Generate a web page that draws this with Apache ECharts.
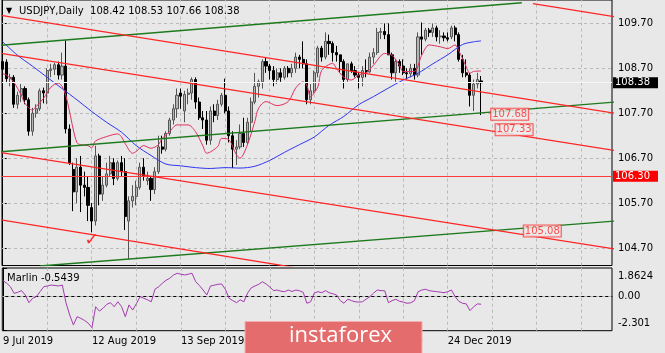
<!DOCTYPE html>
<html>
<head>
<meta charset="utf-8">
<title>USDJPY Daily</title>
<script src="https://cdn.jsdelivr.net/npm/echarts@6/dist/echarts.min.js"></script>
<style>
html, body { margin: 0; padding: 0; background: #e8e8e8; }
#chart { width: 665px; height: 353px; }
</style>
</head>
<body>
<div id="chart"></div>
<script>
// bar 0 = 9 Jul 2019 ... bar 129 = 8 Jan 2020
const opens = [108.85,108.84,108.47,108.50,107.90,108.10,108.25,108.00,107.30,107.70,
  107.80,108.20,108.15,108.65,108.68,108.78,108.55,108.75,107.35,106.45,
  105.95,106.50,106.10,106.05,105.60,105.30,106.75,105.90,106.10,106.35,
  106.60,106.25,106.60,106.40,105.30,105.75,105.85,106.05,106.50,106.20,
  106.25,106.00,106.40,106.95,106.90,107.25,107.55,107.80,108.15,107.75,
  108.12,108.15,108.45,107.95,107.60,107.55,107.10,107.75,107.65,107.90,
  108.10,107.75,107.20,106.90,106.95,107.25,107.05,107.50,107.95,108.30,
  108.40,108.85,108.75,108.65,108.45,108.60,108.50,108.70,108.60,108.70,
  108.95,108.90,108.80,108.00,108.20,108.60,109.15,108.95,109.30,109.25,
  109.05,109.00,108.85,108.45,108.80,108.65,108.55,108.50,108.65,108.62,
  108.95,109.05,109.50,109.52,109.45,109.00,108.60,108.85,108.75,108.60,
  108.58,108.70,108.55,109.40,109.35,109.55,109.50,109.60,109.40,109.42,
  109.38,109.40,109.60,109.45,108.90,108.60,108.55,108.10,108.35,108.42];
const closes = [108.68,108.47,108.50,107.90,108.10,108.25,108.00,107.30,107.70,107.80,
  108.20,108.15,108.65,108.68,108.78,108.55,108.75,107.35,106.60,105.95,
  106.50,106.10,106.05,105.65,105.30,106.75,105.90,106.10,106.35,106.60,
  106.25,106.60,106.40,105.40,105.75,105.85,106.05,106.50,106.30,106.25,
  106.00,106.40,106.95,106.90,107.25,107.55,107.80,108.10,108.08,108.12,
  108.15,108.45,107.95,107.60,107.55,107.10,107.75,107.65,107.90,108.10,
  107.75,107.20,106.90,106.95,107.25,107.05,107.50,107.95,108.30,108.40,
  108.85,108.75,108.65,108.45,108.60,108.50,108.70,108.60,108.70,108.95,
  108.90,108.80,108.00,108.20,108.60,109.15,108.95,109.30,109.25,109.05,
  109.00,108.85,108.45,108.80,108.65,108.55,108.50,108.65,108.62,108.95,
  109.05,109.50,109.52,109.45,109.00,108.60,108.85,108.75,108.60,108.58,
  108.70,108.55,109.40,109.35,109.55,109.50,109.60,109.40,109.42,109.38,
  109.35,109.60,109.45,108.90,108.60,108.55,108.10,108.35,108.45,108.38];
const highs = [108.99,108.90,108.58,108.55,108.18,108.35,108.30,108.05,107.82,107.90,
  108.25,108.27,108.70,108.80,108.82,108.85,109.05,109.32,107.45,106.60,
  106.70,106.75,106.40,106.30,105.70,106.98,106.80,106.30,106.60,106.75,
  106.70,106.65,106.75,106.70,105.85,106.10,106.20,106.60,106.70,106.40,
  106.30,106.50,107.20,107.20,107.30,107.60,107.90,108.25,108.25,108.20,
  108.25,108.50,108.50,108.05,107.75,107.75,107.85,107.90,108.00,108.15,
  108.47,107.85,107.30,107.10,107.45,107.60,107.60,108.05,108.60,108.45,
  108.90,108.95,108.80,108.75,108.70,108.70,108.75,108.75,108.80,109.05,
  109.00,109.30,108.90,108.35,108.65,109.20,109.20,109.50,109.45,109.30,
  109.20,109.00,108.90,108.80,108.85,108.75,108.60,108.75,108.90,109.05,
  109.15,109.60,109.60,109.70,109.70,109.05,108.90,108.90,108.90,108.70,
  108.80,108.80,109.50,109.72,109.60,109.60,109.70,109.65,109.55,109.50,
  109.50,109.65,109.65,109.50,109.00,108.90,108.60,108.45,108.60,108.53];
const lows = [108.60,108.40,108.30,107.82,107.80,107.95,107.90,107.20,107.20,107.60,
  107.75,107.92,107.90,108.50,108.55,108.45,108.45,107.25,106.55,105.52,
  105.70,105.50,105.85,105.30,105.05,105.20,105.65,105.75,106.05,106.30,
  106.10,106.20,106.30,105.10,104.45,105.60,105.65,106.00,106.20,106.10,
  105.75,105.90,106.35,106.80,106.85,107.20,107.45,107.60,107.80,107.50,
  107.90,108.00,107.80,107.55,107.35,107.00,107.00,107.50,107.55,107.85,
  107.70,107.05,106.48,106.55,106.90,106.95,107.00,107.30,107.90,108.05,
  108.25,108.60,108.45,108.30,108.35,108.40,108.45,108.50,108.50,108.60,
  108.70,108.70,107.90,107.90,108.15,108.50,108.85,108.90,109.00,108.85,
  108.85,108.60,108.25,108.40,108.60,108.50,108.25,108.30,108.50,108.60,
  108.80,109.00,109.35,109.35,109.00,108.45,108.40,108.60,108.55,108.45,
  108.50,108.45,108.50,109.00,109.30,109.40,109.40,109.30,109.25,109.30,
  109.30,109.35,109.30,108.85,108.50,108.50,107.85,107.75,108.25,107.66];

// fast (red) and slow (blue) moving averages: [bar, price]
const redMa = [[0,108.58],[1,108.55],[3,108.39],[5,108.10],[6,107.92],[8,107.77],[9,107.85],
  [11,108.03],[13,108.28],[15,108.37],[16,108.30],[17,108.10],[18,107.75],[19,107.35],[20,107.05],
  [21,107.00],[23,106.98],[24,106.93],[25,107.08],[28,107.18],[31,107.24],[32,107.18],[33,107.03],
  [35,106.81],[36,106.85],[38,106.98],[40,106.92],[42,107.00],[43,107.14],[45,107.29],[47,107.44],
  [50,107.44],[52,107.29],[54,106.97],[55,106.81],[58,106.96],[59,107.14],[61,107.11],[63,106.78],
  [64,106.70],[66,107.00],[68,107.52],[69,107.81],[71,107.96],[74,107.87],[77,107.96],[79,108.26],
  [81,108.40],[82,108.33],[83,108.07],[85,108.29],[86,108.65],[89,108.81],[90,108.70],[92,108.50],
  [94,108.44],[96,108.55],[98,108.60],[100,108.77],[103,109.03],[105,108.99],[107,108.77],[108,108.63],
  [111,108.63],[113,108.99],[115,109.22],[118,109.18],[120,109.14],[122,109.22],[123,109.09],
  [125,108.74],[126,108.59],[127,108.63],[129,108.64]];
const blueMa = [[0,109.29],[4,108.99],[8,108.75],[12,108.50],[16,108.25],[20,108.00],[24,107.74],
  [28,107.50],[32,107.28],[36,106.98],[40,106.76],[44,106.57],[48,106.53],[52,106.49],[56,106.47],
  [60,106.49],[64,106.48],[68,106.52],[72,106.65],[76,106.83],[80,107.00],[84,107.17],[88,107.43],
  [92,107.63],[96,107.89],[100,108.07],[104,108.26],[108,108.44],[112,108.59],[116,108.80],
  [120,109.00],[124,109.23],[127,109.29],[129,109.31]];

// Marlin oscillator, one value per bar
const marlin = [1.02,0.85,0.62,0.18,0.25,0.36,0.07,-0.44,-0.15,-0.04,
  0.29,0.62,0.67,0.73,0.70,0.67,0.73,-0.45,-1.26,-1.92,
  -1.37,-1.48,-1.62,-1.80,-2.10,-0.71,-1.00,-0.81,-0.55,-0.44,
  -0.71,-0.38,-0.71,-1.37,-0.59,-0.93,-0.50,-0.04,-0.15,-0.25,
  -0.38,0.45,0.62,0.85,1.05,1.18,1.40,1.51,1.45,1.40,
  1.45,1.51,0.95,0.70,0.40,0.07,0.67,0.72,0.78,0.80,
  0.45,-0.15,-0.30,-0.44,-0.25,-0.38,0.20,0.55,0.67,0.78,
  0.95,0.80,0.60,0.36,0.40,0.32,0.29,0.40,0.30,0.40,
  0.35,0.25,-0.48,-0.38,0.20,0.29,0.22,0.36,0.22,0.15,
  0.07,-0.30,-0.48,-0.21,-0.30,-0.38,-0.40,-0.38,-0.20,-0.04,
  0.20,0.40,0.36,0.35,-0.44,-0.30,-0.21,-0.35,-0.40,-0.48,
  -0.45,-0.31,0.29,0.40,0.45,0.36,0.32,0.29,0.26,0.22,
  0.29,0.40,-0.04,-0.35,-0.48,-0.52,-0.97,-0.71,-0.52,-0.5439];

// drawn trend lines: [bar1, price1, bar2, price2]
const redLines = [[143,110.14,165,109.85],[-1,109.885,165,107.70],[-1,109.04,165,106.87],
  [-1,106.83,165,104.68],[-1,105.335,80,104.25]];
const greenLines = [[-1,109.21,140,110.16],[-1,106.84,165,107.95],[10,104.30,165,105.30]];
const levelPrice = 106.30;
const lastPrice = closes[closes.length - 1];
const noteBars = [131.6, 132.8, 140.4];
const notePrices = [107.68, 107.33, 105.08];
const checkMark = [24, 104.86];

const priceTicks = [104.70, 105.70, 106.70, 107.70, 108.70, 109.70];
const priceMin = 104.311, priceMax = 110.221;
const marlinMin = -2.301, marlinMax = 1.8624;
const barMin = -0.19, barMax = 164.32;
const dateBars = [0, 24, 48, 72, 96, 120];
const dateLabels = ['9 Jul 2019', '12 Aug 2019', '13 Sep 2019', '17 Oct 2019', '20 Nov 2019', '24 Dec 2019'];
const gridBars = [12, 24, 36, 48, 60, 72, 84, 96, 108, 120, 132, 144, 156];

const FONT = "'DejaVu Sans', sans-serif";
const last = opens.length - 1;
const candles = opens.map((o, i) => [i, o, closes[i], lows[i], highs[i]]);
const gridStyle = { color: '#b9b9b9', type: [3, 3], width: 1 };

const lineSeries = (pts, color) => ({
  type: 'line', xAxisIndex: 0, yAxisIndex: 0, z: 4, silent: true,
  symbol: 'none', data: [[pts[0], pts[1]], [pts[2], pts[3]]],
  lineStyle: { color: color, width: 1.3 }
});

const chart = echarts.init(document.getElementById('chart'));
chart.setOption({
  animation: false,
  backgroundColor: '#e8e8e8',
  textStyle: { fontFamily: FONT },
  title: [
    { text: '▼', left: 6, top: 7, padding: 0, textStyle: { fontSize: 8, color: '#000', fontWeight: 'normal', fontFamily: FONT } },
    { text: 'USDJPY,Daily  ' + [opens[last], highs[last], lows[last], closes[last]].map(v => v.toFixed(2)).join(' '),
      left: 19, top: 6, padding: 0, textStyle: { fontSize: 10, color: '#000', fontWeight: 'normal', fontFamily: FONT } },
    { text: 'Marlin ' + marlin[last].toFixed(4), left: 7, top: 273, padding: 0,
      textStyle: { fontSize: 10, color: '#000', fontWeight: 'normal', fontFamily: FONT } }
  ],
  grid: [
    { left: 2, top: -2, width: 610, height: 267.5, show: true, borderColor: '#000', borderWidth: 1, backgroundColor: 'transparent' },
    { left: 2, top: 268, width: 610, height: 62.7, show: true, borderColor: '#000', borderWidth: 1, backgroundColor: 'transparent' }
  ],
  xAxis: [
    { type: 'value', gridIndex: 0, min: barMin, max: barMax, show: false },
    { type: 'value', gridIndex: 1, min: barMin, max: barMax,
      axisLine: { show: true, lineStyle: { color: '#000' } },
      axisTick: { show: true, length: 4, customValues: dateBars, lineStyle: { color: '#000' } },
      axisLabel: { customValues: dateBars, align: 'left', margin: 6, fontSize: 10, color: '#000', fontFamily: FONT,
        formatter: v => dateLabels[dateBars.indexOf(Math.round(v))] || '' },
      splitLine: { show: false } }
  ],
  yAxis: [
    { type: 'value', gridIndex: 0, position: 'right', min: priceMin, max: priceMax,
      axisLine: { show: true, lineStyle: { color: '#000' } },
      axisTick: { show: true, length: 4, customValues: priceTicks, lineStyle: { color: '#000' } },
      axisLabel: { customValues: priceTicks, margin: 6, fontSize: 10, color: '#000', fontFamily: FONT,
        formatter: v => v.toFixed(2) },
      splitLine: { show: false } },
    { type: 'value', gridIndex: 1, position: 'right', min: marlinMin, max: marlinMax,
      axisLine: { show: true, lineStyle: { color: '#000' } },
      axisTick: { show: true, length: 4, customValues: [marlinMax, 0, marlinMin], lineStyle: { color: '#000' } },
      axisLabel: { customValues: [marlinMax, 0, marlinMin], margin: 6, fontSize: 10, color: '#000', fontFamily: FONT,
        formatter: v => v === marlinMax ? '{top|' + v.toFixed(4) + '}' : v === marlinMin ? '{bot|' + v.toFixed(3) + '}' : v.toFixed(2),
        rich: { top: { padding: [16, 0, 0, 0] }, bot: { padding: [0, 0, 14, 0] } } },
      splitLine: { show: false } }
  ],
  graphic: [
    { type: 'rect', z: 100, shape: { x: 245, y: 321.5, width: 177, height: 34 },
      style: { fill: '#e46c6c', stroke: '#f2b0b0', lineWidth: 1 } },
    { type: 'text', z: 101, x: 289, y: 336,
      style: { text: 'instaforex', fill: '#ffffff', fontSize: 22, fontFamily: "'Open Sans', sans-serif", verticalAlign: 'middle' } }
  ],
  series: [
    { // chart grid
      type: 'line', xAxisIndex: 0, yAxisIndex: 0, silent: true, symbol: 'none',
      data: [[barMin, priceMin]], lineStyle: { opacity: 0 },
      markLine: { z: 1, silent: true, symbol: ['none', 'none'], label: { show: false }, lineStyle: gridStyle,
        data: priceTicks.map(v => ({ yAxis: v })).concat(gridBars.map(b => ({ xAxis: b }))) }
    },
    {
      type: 'candlestick', xAxisIndex: 0, yAxisIndex: 0, z: 2, silent: true,
      data: candles, encode: { x: 0, y: [1, 2, 3, 4] }, barWidth: 2.6,
      itemStyle: { color: '#b4b4b4', color0: '#000000', borderColor: '#555555', borderColor0: '#000000', borderWidth: 1 }
    },
    { type: 'line', xAxisIndex: 0, yAxisIndex: 0, z: 3, silent: true, symbol: 'none', smooth: 0.3,
      data: blueMa, lineStyle: { color: '#2f35f0', width: 1 } },
    { type: 'line', xAxisIndex: 0, yAxisIndex: 0, z: 3, silent: true, symbol: 'none', smooth: 0.3,
      data: redMa, lineStyle: { color: '#e0305e', width: 1 } },
    ...greenLines.map(l => lineSeries(l, '#1d7a1d')),
    ...redLines.map(l => lineSeries(l, '#ff2424')),
    { // horizontal level and bid line
      type: 'line', xAxisIndex: 0, yAxisIndex: 0, silent: true, symbol: 'none',
      data: [[barMin, priceMin]], lineStyle: { opacity: 0 },
      markLine: { z: 4, silent: true, symbol: ['none', 'none'],
        data: [
          { yAxis: lastPrice, lineStyle: { color: '#f6f6f6', width: 1, type: 'solid' },
            label: { show: true, position: 'end', distance: 1, formatter: lastPrice.toFixed(2),
              backgroundColor: '#000', color: '#fff', padding: [1, 8, 0, 2], fontSize: 10, fontFamily: FONT } },
          { yAxis: levelPrice, lineStyle: { color: '#ff3a3a', width: 1.2, type: 'solid' },
            label: { show: true, position: 'end', distance: 1, formatter: levelPrice.toFixed(2),
              backgroundColor: '#ff0000', color: '#fff', padding: [1, 8, 0, 2], fontSize: 10, fontFamily: FONT } }
        ] }
    },
    {
      type: 'scatter', xAxisIndex: 0, yAxisIndex: 0, z: 6, silent: true, symbolSize: 1,
      itemStyle: { color: 'transparent' },
      data: noteBars.map((b, i) => [b, notePrices[i]]),
      label: { show: true, position: 'right', distance: 0, formatter: p => p.value[1].toFixed(2),
        color: '#ff2020', fontSize: 10, fontFamily: FONT, backgroundColor: '#ececec',
        borderColor: '#ff3030', borderWidth: 1, padding: [1, 1, 0, 1] }
    },
    {
      type: 'scatter', xAxisIndex: 0, yAxisIndex: 0, z: 6, silent: true, symbolSize: 1,
      itemStyle: { color: 'transparent' }, data: [checkMark],
      label: { show: true, position: 'inside', formatter: '✓', color: '#ff0000', fontSize: 17, fontWeight: 'bold', fontFamily: FONT }
    },
    {
      type: 'line', xAxisIndex: 1, yAxisIndex: 1, z: 3, silent: true, symbol: 'none',
      data: marlin.map((v, i) => [i, v]), lineStyle: { color: '#a33ab0', width: 1 },
      markLine: { z: 1, silent: true, symbol: ['none', 'none'], label: { show: false }, lineStyle: gridStyle,
        data: [{ yAxis: 0 }].concat(gridBars.map(b => ({ xAxis: b }))) }
    }
  ]
});
</script>
</body>
</html>
